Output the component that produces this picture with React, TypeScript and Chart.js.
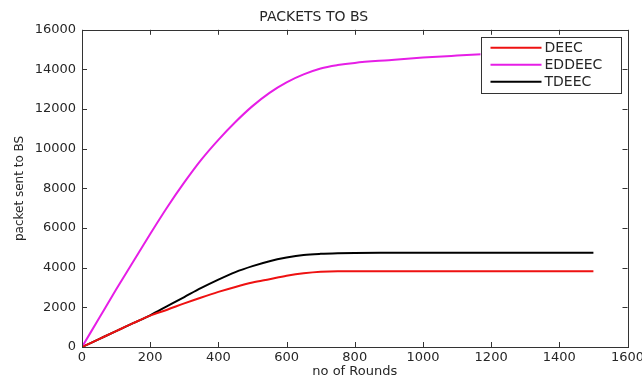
import React, { useEffect, useRef } from "react";
import { Chart, registerables } from "chart.js";

Chart.register(...registerables);

const rounds = [0, 50, 100, 150, 200, 250, 300, 350, 400, 450, 500, 550, 600, 650, 700, 750, 800, 900, 1000, 1100, 1200, 1300, 1400, 1500];
const deec = [0, 400, 800, 1200, 1580, 1880, 2200, 2500, 2780, 3030, 3250, 3420, 3590, 3720, 3800, 3820, 3820, 3820, 3820, 3820, 3820, 3820, 3820, 3820];
const eddeec = [0, 1450, 2900, 4300, 5700, 7050, 8300, 9450, 10450, 11350, 12150, 12820, 13350, 13750, 14050, 14220, 14330, 14470, 14600, 14700, 14790, 14860, 14920, 14980];
const tdeec = [0, 400, 800, 1200, 1600, 2060, 2520, 2980, 3400, 3780, 4080, 4330, 4510, 4640, 4700, 4730, 4745, 4750, 4750, 4750, 4750, 4750, 4750, 4750];
const seriesNames = ["DEEC", "EDDEEC", "TDEEC"];
const seriesColors = ["#ee1111", "#e61ee6", "#000000"];
const xTicks = [0, 200, 400, 600, 800, 1000, 1200, 1400, 1600];
const yTicks = [0, 2000, 4000, 6000, 8000, 10000, 12000, 14000, 16000];
const titleText = "PACKETS TO BS";
const xTitle = "no of Rounds";
const yTitle = "packet sent to BS";

const FONT = "'DejaVu Sans', sans-serif";
const TEXT = "#262626";

const boxPlugin = {
  id: "matlabBox",
  afterDatasetsDraw(chart: any) {
    const { ctx, chartArea } = chart;
    const w = 140, h = 56;
    const bx = chartArea.right - 7 - w;
    const by = chartArea.top + 7;
    ctx.save();
    ctx.fillStyle = "#ffffff";
    ctx.fillRect(bx, by, w, h);
    ctx.strokeStyle = "#333";
    ctx.lineWidth = 1;
    ctx.strokeRect(Math.round(bx) + 0.5, Math.round(by) + 0.5, w, h);
    ctx.font = "14px " + FONT;
    ctx.textBaseline = "middle";
    ctx.textAlign = "left";
    chart.data.datasets.forEach((ds: any, i: number) => {
      const y = by + 11 + i * 17;
      ctx.strokeStyle = ds.borderColor;
      ctx.lineWidth = 2;
      ctx.beginPath();
      ctx.moveTo(bx + 10, y);
      ctx.lineTo(bx + 61, y);
      ctx.stroke();
      ctx.fillStyle = TEXT;
      ctx.fillText(ds.label, bx + 64, y + 1);
    });
    ctx.restore();
  },
  afterDraw(chart: any) {
    const { ctx, chartArea, scales } = chart;
    const { left, right, top, bottom } = chartArea;
    ctx.save();
    ctx.strokeStyle = "#333";
    ctx.lineWidth = 1;
    ctx.strokeRect(Math.round(left) + 0.5, Math.round(top) + 0.5, Math.round(right - left), Math.round(bottom - top));
    const len = 5;
    ctx.beginPath();
    scales.x.ticks.forEach((t: any) => {
      const x = Math.round(scales.x.getPixelForValue(t.value)) + 0.5;
      ctx.moveTo(x, bottom);
      ctx.lineTo(x, bottom - len);
      ctx.moveTo(x, top);
      ctx.lineTo(x, top + len);
    });
    scales.y.ticks.forEach((t: any) => {
      const y = Math.round(scales.y.getPixelForValue(t.value)) + 0.5;
      ctx.moveTo(left, y);
      ctx.lineTo(left + len, y);
      ctx.moveTo(right, y);
      ctx.lineTo(right - len, y);
    });
    ctx.stroke();
    ctx.restore();
  },
};

export default function App() {
  const ref = useRef<HTMLCanvasElement | null>(null);
  useEffect(() => {
    if (!ref.current) return;
    const seriesValues = [deec, eddeec, tdeec];
    const chart = new Chart(ref.current, {
      type: "line",
      data: {
        datasets: seriesValues.map((vals, i) => ({
          label: seriesNames[i],
          data: rounds.map((r, j) => ({ x: r, y: vals[j] })),
          borderColor: seriesColors[i],
          backgroundColor: seriesColors[i],
          borderWidth: 2,
          pointRadius: 0,
          fill: false,
          cubicInterpolationMode: "monotone" as const,
        })),
      },
      options: {
        animation: false,
        responsive: true,
        maintainAspectRatio: false,
        layout: { padding: { left: 0, right: 14.5, top: 0, bottom: 0 } },
        plugins: {
          legend: { display: false },
          tooltip: { enabled: false },
          title: {
            display: true,
            text: titleText,
            color: TEXT,
            font: { family: FONT, size: 14, weight: "normal" },
            padding: { top: 9, bottom: 4 },
          },
        },
        scales: {
          x: {
            type: "linear",
            min: 0,
            max: 1600,
            afterBuildTicks: (s: any) => {
              s.ticks = xTicks.map((v) => ({ value: v }));
            },
            afterFit: (s: any) => {
              s.height = 32;
              s.paddingLeft = 0;
              s.paddingRight = 0;
            },
            grid: { display: false, drawTicks: false },
            border: { display: false },
            ticks: {
              color: TEXT,
              font: { family: FONT, size: 13 },
              padding: 3,
              maxRotation: 0,
              autoSkip: false,
              callback: (v: any) => String(v),
            },
            title: {
              display: true,
              text: xTitle,
              color: TEXT,
              font: { family: FONT, size: 13, lineHeight: 1.2 },
              padding: { top: 0, bottom: 0 },
            },
          },
          y: {
            type: "linear",
            min: 0,
            max: 16000,
            afterBuildTicks: (s: any) => {
              s.ticks = yTicks.map((v) => ({ value: v }));
            },
            afterFit: (s: any) => {
              s.width = 82;
              s.paddingTop = 0;
              s.paddingBottom = 0;
            },
            grid: { display: false, drawTicks: false },
            border: { display: false },
            ticks: {
              color: TEXT,
              font: { family: FONT, size: 13 },
              padding: 6,
              autoSkip: false,
              callback: (v: any) => String(v),
            },
            title: {
              display: true,
              text: yTitle,
              color: TEXT,
              font: { family: FONT, size: 12, lineHeight: 1.2 },
              padding: { top: 13, bottom: 0 },
            },
          },
        },
      },
      plugins: [boxPlugin],
    });
    return () => chart.destroy();
  }, []);
  return (
    <div style={{ position: "fixed", left: 0, top: 0, width: 642, height: 379, background: "#fff" }}>
      <canvas ref={ref} />
    </div>
  );
}
